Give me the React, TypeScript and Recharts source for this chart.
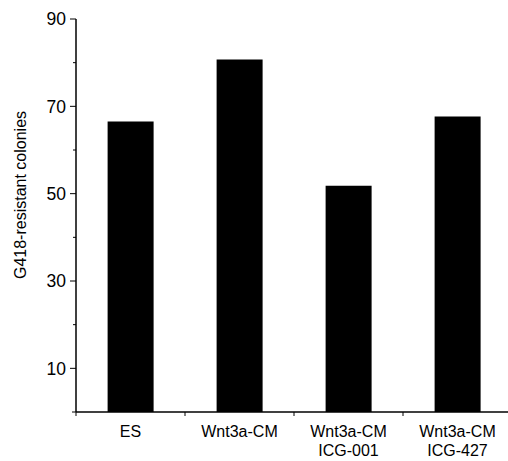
import React from "react";
import { BarChart, Bar, XAxis, YAxis } from "recharts";

const categories = ["ES", "Wnt3a-CM", "Wnt3a-CM\nICG-001", "Wnt3a-CM\nICG-427"];
const colonies = [66.5, 80.7, 51.8, 67.7];
const yTicks = [0, 10, 20, 30, 40, 50, 60, 70, 80, 90];
const labelledTicks = [10, 30, 50, 70, 90];

const data = categories.map((name, i) => ({ name, value: colonies[i] }));

const FONT = "Arial, 'Liberation Sans', Helvetica, sans-serif";

const YTick = (props: any) => {
  const { x, y, payload } = props;
  const v = payload.value;
  const labelled = labelledTicks.includes(v);
  const len = labelled ? 6 : v === 0 ? 4 : 3;
  return (
    <g>
      <line x1={x - len} x2={x} y1={y} y2={y} stroke="#000" strokeWidth={1} />
      {labelled && (
        <text x={x - 10} y={y} dy="0.36em" textAnchor="end" fontSize={17.5} fontFamily={FONT} fill="#000">
          {v}
        </text>
      )}
    </g>
  );
};

const XTick = (props: any) => {
  const { x, y, payload, index, width, visibleTicksCount } = props;
  const band = (width ?? 436) / (visibleTicksCount ?? categories.length);
  const lines = String(payload.value).split("\n");
  return (
    <g>
      <line x1={x - band / 2} x2={x - band / 2} y1={y} y2={y + 4} stroke="#000" strokeWidth={1} />
      {index === categories.length - 1 && (
        <line x1={x + band / 2} x2={x + band / 2} y1={y} y2={y + 4} stroke="#000" strokeWidth={1} />
      )}
      {lines.map((line, i) => (
        <text key={i} x={x} y={y + 25 + i * 18.5} textAnchor="middle" fontSize={16} fontFamily={FONT} fill="#000">
          {line}
        </text>
      ))}
    </g>
  );
};

const YLabel = () => (
  <text
    transform="translate(20,195) rotate(-90)"
    textAnchor="middle"
    dominantBaseline="central"
    fontSize={16}
    fontFamily={FONT}
    fill="#000"
  >
    G418-resistant colonies
  </text>
);

export default function App() {
  return (
    <div style={{ position: "absolute", left: 0, top: 0, width: 508, height: 461, overflow: "hidden", background: "#fff" }}>
      <BarChart
        width={520}
        height={461}
        data={data}
        margin={{ top: 19, right: 8, left: 0, bottom: 0 }}
        barCategoryGap="29%"
      >
        <XAxis
          dataKey="name"
          height={49}
          interval={0}
          tickSize={0}
          tickMargin={0}
          tickLine={false}
          axisLine={{ stroke: "#000", strokeWidth: 1.5 }}
          tick={<XTick />}
        />
        <YAxis
          type="number"
          domain={[0, 90]}
          ticks={yTicks}
          interval={0}
          width={76}
          tickSize={0}
          tickMargin={0}
          tickLine={false}
          axisLine={{ stroke: "#000", strokeWidth: 1.5 }}
          tick={<YTick />}
          label={<YLabel />}
        />
        <Bar dataKey="value" fill="#000" isAnimationActive={false} />
      </BarChart>
    </div>
  );
}
